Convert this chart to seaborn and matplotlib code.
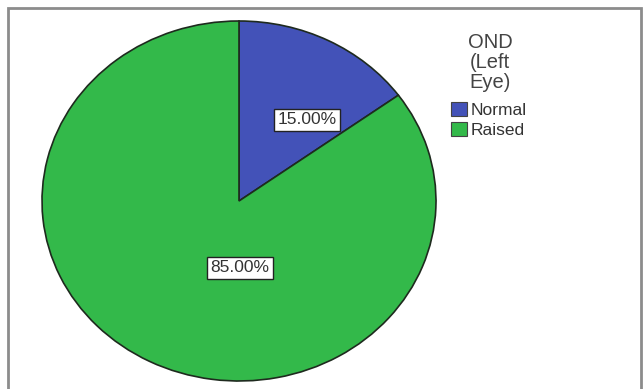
import matplotlib
matplotlib.use("Agg")
import matplotlib.pyplot as plt
import seaborn as sns
from matplotlib.patches import Rectangle

# Optic nerve sheath diameter (left eye) distribution
categories = ["Normal", "Raised"]
percentages = [15.00, 85.00]
legend_title = "OND\n(Left\nEye)"
slice_colors = ["#4352b8", "#33b94a"]

sns.set_theme(style="white")
plt.rcParams["font.family"] = ["Liberation Sans", "DejaVu Sans"]

W, H = 644, 389
fig = plt.figure(figsize=(W / 100, H / 100), dpi=100)
fig.patch.set_facecolor("white")

# Outer chart frame
fig.add_artist(Rectangle((8 / W, -0.05), (641 - 8) / W, (H - 8) / H + 0.05,
                         transform=fig.transFigure, fill=False,
                         edgecolor="#8c8c8c", linewidth=2.0))

# Pie area (slightly wider than tall)
ax = fig.add_axes([42 / W, 8 / H, 394 / W, 360 / H])
wedges, _ = ax.pie(percentages, colors=slice_colors, startangle=90,
                   counterclock=False, radius=1.0,
                   wedgeprops=dict(edgecolor="#1e2a1e", linewidth=1.2))
ax.set_aspect("auto")
ax.set_xlim(-1.0, 1.0)
ax.set_ylim(-1.0, 1.0)
ax.axis("off")

# Value labels in white boxes
label_pos = [(0.345, 0.45), (0.005, -0.372)]
for pct, (lx, ly) in zip(percentages, label_pos):
    ax.text(lx, ly, f"{pct:.2f}%", ha="center", va="center", fontsize=12.5,
            color="#333333",
            bbox=dict(boxstyle="square,pad=0.2", facecolor="white",
                      edgecolor="#222222", linewidth=1.0))

# Legend title, centred above the entries
fig.text(490 / W, 1 - 33 / H, legend_title, ha="center", va="top",
         fontsize=14.5, color="#444444", linespacing=1.05)

leg = fig.legend(wedges, categories, frameon=False,
                 loc="upper left", bbox_to_anchor=(451 / W, 1 - 102 / H),
                 fontsize=12.5, handlelength=0.9,
                 handleheight=0.85, handletextpad=0.25, labelspacing=0.22,
                 borderaxespad=0, borderpad=0)
for t in leg.get_texts():
    t.set_color("#333333")
for h in leg.legend_handles:
    h.set_edgecolor("#444444")
    h.set_linewidth(0.8)

fig.savefig("out.png", dpi=100)
